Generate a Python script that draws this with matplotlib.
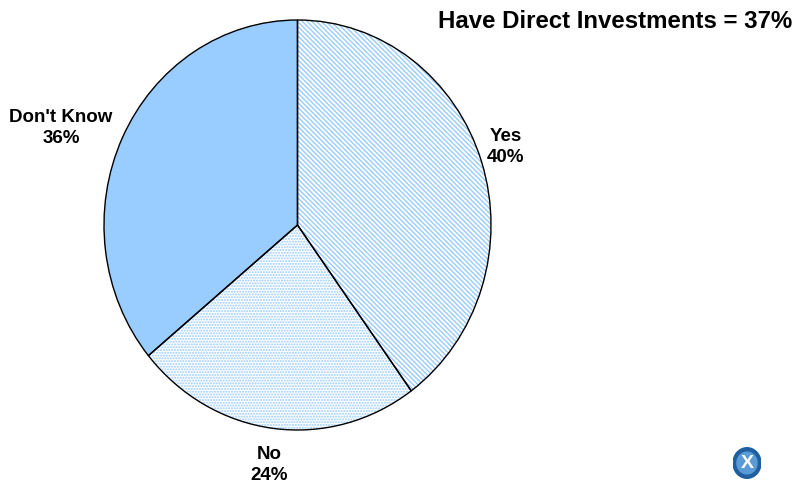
import numpy as np
import matplotlib.pyplot as plt
from matplotlib.patches import Ellipse

plt.rcParams['font.family'] = ['Liberation Sans', 'DejaVu Sans']

labels = ["Yes", "No", "Don't Know"]
shares = [40, 24, 36]
title = "Have Direct Investments = 37%"

blue = '#99CCFF'
hatches = ['\\' * 7, '......', None]
faces = ['white', 'white', blue]
label_dist = [1.13, 1.18, 1.35]
label_dy = [0.03, 0.0, -0.1]

fig = plt.figure(figsize=(7.97, 4.86), dpi=100)
ax = fig.add_axes([104 / 797, 56 / 486, 387 / 797, 410 / 486])

# hatched fills first, outline drawn on top in black
wedges, _ = ax.pie(shares, startangle=90, counterclock=False, radius=1,
                   colors=faces, wedgeprops=dict(linewidth=0, edgecolor=blue))
for w, h in zip(wedges, hatches):
    if h:
        w.set_hatch(h)
outline, _ = ax.pie(shares, startangle=90, counterclock=False, radius=1,
                    wedgeprops=dict(fill=False, linewidth=1.0, edgecolor='black'))

for w, lab, s, d, dy in zip(wedges, labels, shares, label_dist, label_dy):
    mid = np.deg2rad((w.theta1 + w.theta2) / 2)
    ax.text(d * np.cos(mid), d * np.sin(mid) + dy, f"{lab}\n{s}%",
            ha='center', va='center', fontsize=13.5, fontweight='bold',
            linespacing=1.3)

ax.set_aspect('auto')
ax.set_xlim(-1, 1)
ax.set_ylim(-1, 1)
ax.axis('off')

fig.text(0.9935, 0.955, title, ha='right', va='center', fontsize=17.3, fontweight='bold')

# small logo bottom right
lax = fig.add_axes([733 / 797, 6 / 486, 28 / 797, 34 / 486])
lax.add_patch(Ellipse((0.5, 0.5), 1.0, 0.9, color='#1f5f9f'))
lax.add_patch(Ellipse((0.5, 0.5), 0.72, 0.64, color='#5a9ad6'))
lax.text(0.5, 0.48, "X", ha='center', va='center', color='white', fontsize=14, fontweight='bold')
lax.set_xlim(0, 1)
lax.set_ylim(0, 1)
lax.axis('off')

fig.savefig('out.png', dpi=100)
plt.close()
